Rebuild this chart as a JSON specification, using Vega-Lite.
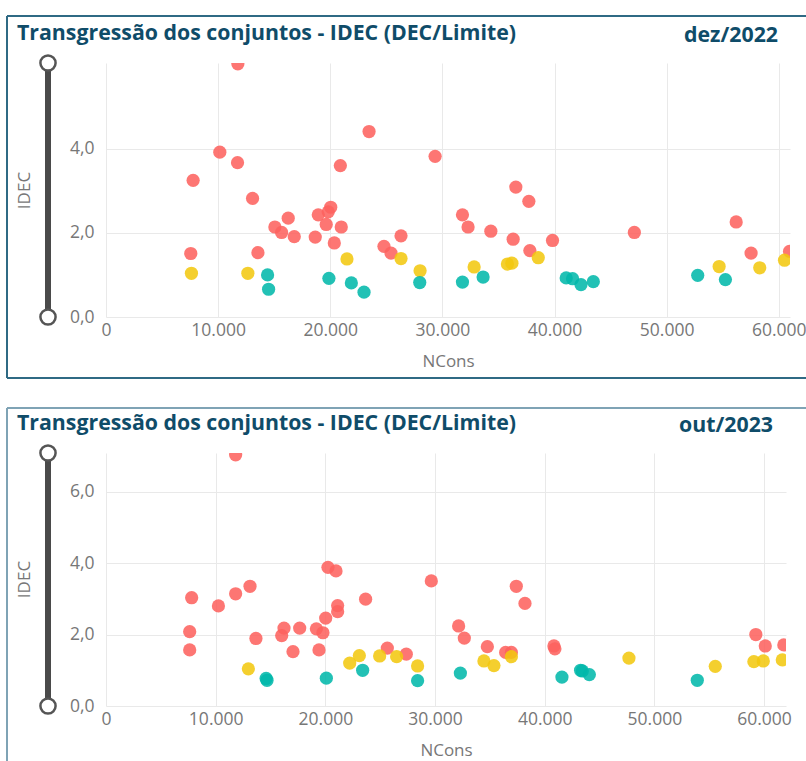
{
  "$schema": "https://vega.github.io/schema/vega-lite/v6.json",
  "padding": {"left": 6, "top": 15, "right": 0, "bottom": 0},
  "background": "white",
  "config": {
    "locale": {"number": {"decimal": ",", "thousands": ".", "grouping": [3], "currency": ["R$", ""]}},
    "view": {"stroke": null},
    "font": "Open Sans",
    "axis": {"labelFont": "Open Sans", "labelFontSize": 17.5, "labelColor": "#777777", "titleFont": "Open Sans", "titleFontSize": 17, "titleFontWeight": "normal", "titleColor": "#777777", "gridColor": "#E9E9E9", "gridWidth": 1, "domain": false, "ticks": false},
    "title": {"font": "Open Sans", "fontSize": 21.3, "fontWeight": "bold", "color": "#0f4c69", "anchor": "start", "frame": "group", "baseline": "alphabetic"}
  },
  "datasets": {
    "one": [{}],
    "dez2022": [
      {"NCons": 11760, "IDEC": 6.02, "Faixa": "Alta"},
      {"NCons": 10150, "IDEC": 3.92, "Faixa": "Alta"},
      {"NCons": 11730, "IDEC": 3.67, "Faixa": "Alta"},
      {"NCons": 7770, "IDEC": 3.25, "Faixa": "Alta"},
      {"NCons": 13070, "IDEC": 2.82, "Faixa": "Alta"},
      {"NCons": 23460, "IDEC": 4.41, "Faixa": "Alta"},
      {"NCons": 29350, "IDEC": 3.82, "Faixa": "Alta"},
      {"NCons": 20900, "IDEC": 3.6, "Faixa": "Alta"},
      {"NCons": 16250, "IDEC": 2.35, "Faixa": "Alta"},
      {"NCons": 15060, "IDEC": 2.14, "Faixa": "Alta"},
      {"NCons": 15660, "IDEC": 2.01, "Faixa": "Alta"},
      {"NCons": 16790, "IDEC": 1.91, "Faixa": "Alta"},
      {"NCons": 18930, "IDEC": 2.43, "Faixa": "Alta"},
      {"NCons": 20040, "IDEC": 2.61, "Faixa": "Alta"},
      {"NCons": 19820, "IDEC": 2.5, "Faixa": "Alta"},
      {"NCons": 19640, "IDEC": 2.2, "Faixa": "Alta"},
      {"NCons": 20980, "IDEC": 2.14, "Faixa": "Alta"},
      {"NCons": 18660, "IDEC": 1.9, "Faixa": "Alta"},
      {"NCons": 20360, "IDEC": 1.76, "Faixa": "Alta"},
      {"NCons": 7560, "IDEC": 1.51, "Faixa": "Alta"},
      {"NCons": 13550, "IDEC": 1.53, "Faixa": "Alta"},
      {"NCons": 26310, "IDEC": 1.93, "Faixa": "Alta"},
      {"NCons": 24790, "IDEC": 1.68, "Faixa": "Alta"},
      {"NCons": 25420, "IDEC": 1.52, "Faixa": "Alta"},
      {"NCons": 31790, "IDEC": 2.43, "Faixa": "Alta"},
      {"NCons": 32290, "IDEC": 2.14, "Faixa": "Alta"},
      {"NCons": 34320, "IDEC": 2.04, "Faixa": "Alta"},
      {"NCons": 36550, "IDEC": 3.09, "Faixa": "Alta"},
      {"NCons": 37710, "IDEC": 2.75, "Faixa": "Alta"},
      {"NCons": 36310, "IDEC": 1.85, "Faixa": "Alta"},
      {"NCons": 37800, "IDEC": 1.58, "Faixa": "Alta"},
      {"NCons": 39820, "IDEC": 1.82, "Faixa": "Alta"},
      {"NCons": 47120, "IDEC": 2.01, "Faixa": "Alta"},
      {"NCons": 56200, "IDEC": 2.26, "Faixa": "Alta"},
      {"NCons": 57530, "IDEC": 1.52, "Faixa": "Alta"},
      {"NCons": 60960, "IDEC": 1.56, "Faixa": "Alta"},
      {"NCons": 7620, "IDEC": 1.04, "Faixa": "Média"},
      {"NCons": 12650, "IDEC": 1.04, "Faixa": "Média"},
      {"NCons": 21490, "IDEC": 1.38, "Faixa": "Média"},
      {"NCons": 26310, "IDEC": 1.39, "Faixa": "Média"},
      {"NCons": 28010, "IDEC": 1.1, "Faixa": "Média"},
      {"NCons": 32830, "IDEC": 1.19, "Faixa": "Média"},
      {"NCons": 35800, "IDEC": 1.26, "Faixa": "Média"},
      {"NCons": 36200, "IDEC": 1.28, "Faixa": "Média"},
      {"NCons": 38550, "IDEC": 1.41, "Faixa": "Média"},
      {"NCons": 54680, "IDEC": 1.2, "Faixa": "Média"},
      {"NCons": 58300, "IDEC": 1.17, "Faixa": "Média"},
      {"NCons": 60510, "IDEC": 1.35, "Faixa": "Média"},
      {"NCons": 14410, "IDEC": 1.0, "Faixa": "Baixa"},
      {"NCons": 14500, "IDEC": 0.66, "Faixa": "Baixa"},
      {"NCons": 19880, "IDEC": 0.92, "Faixa": "Baixa"},
      {"NCons": 21880, "IDEC": 0.81, "Faixa": "Baixa"},
      {"NCons": 23010, "IDEC": 0.59, "Faixa": "Baixa"},
      {"NCons": 27980, "IDEC": 0.82, "Faixa": "Baixa"},
      {"NCons": 31790, "IDEC": 0.83, "Faixa": "Baixa"},
      {"NCons": 33630, "IDEC": 0.95, "Faixa": "Baixa"},
      {"NCons": 41040, "IDEC": 0.93, "Faixa": "Baixa"},
      {"NCons": 41610, "IDEC": 0.91, "Faixa": "Baixa"},
      {"NCons": 42360, "IDEC": 0.77, "Faixa": "Baixa"},
      {"NCons": 43460, "IDEC": 0.84, "Faixa": "Baixa"},
      {"NCons": 52770, "IDEC": 0.99, "Faixa": "Baixa"},
      {"NCons": 55240, "IDEC": 0.89, "Faixa": "Baixa"}
    ],
    "out2023": [
      {"NCons": 11820, "IDEC": 7.03, "Faixa": "Alta"},
      {"NCons": 7810, "IDEC": 3.03, "Faixa": "Alta"},
      {"NCons": 10250, "IDEC": 2.8, "Faixa": "Alta"},
      {"NCons": 11820, "IDEC": 3.14, "Faixa": "Alta"},
      {"NCons": 13130, "IDEC": 3.35, "Faixa": "Alta"},
      {"NCons": 7630, "IDEC": 2.08, "Faixa": "Alta"},
      {"NCons": 7630, "IDEC": 1.57, "Faixa": "Alta"},
      {"NCons": 13670, "IDEC": 1.89, "Faixa": "Alta"},
      {"NCons": 16230, "IDEC": 2.18, "Faixa": "Alta"},
      {"NCons": 16020, "IDEC": 1.97, "Faixa": "Alta"},
      {"NCons": 17660, "IDEC": 2.18, "Faixa": "Alta"},
      {"NCons": 17050, "IDEC": 1.52, "Faixa": "Alta"},
      {"NCons": 19180, "IDEC": 2.16, "Faixa": "Alta"},
      {"NCons": 19780, "IDEC": 2.05, "Faixa": "Alta"},
      {"NCons": 19420, "IDEC": 1.57, "Faixa": "Alta"},
      {"NCons": 20030, "IDEC": 2.46, "Faixa": "Alta"},
      {"NCons": 20240, "IDEC": 3.88, "Faixa": "Alta"},
      {"NCons": 20970, "IDEC": 3.78, "Faixa": "Alta"},
      {"NCons": 21120, "IDEC": 2.81, "Faixa": "Alta"},
      {"NCons": 21120, "IDEC": 2.64, "Faixa": "Alta"},
      {"NCons": 23670, "IDEC": 2.99, "Faixa": "Alta"},
      {"NCons": 29660, "IDEC": 3.5, "Faixa": "Alta"},
      {"NCons": 25650, "IDEC": 1.62, "Faixa": "Alta"},
      {"NCons": 27380, "IDEC": 1.45, "Faixa": "Alta"},
      {"NCons": 32150, "IDEC": 2.24, "Faixa": "Alta"},
      {"NCons": 32670, "IDEC": 1.9, "Faixa": "Alta"},
      {"NCons": 34770, "IDEC": 1.66, "Faixa": "Alta"},
      {"NCons": 37410, "IDEC": 3.35, "Faixa": "Alta"},
      {"NCons": 38200, "IDEC": 2.87, "Faixa": "Alta"},
      {"NCons": 36440, "IDEC": 1.5, "Faixa": "Alta"},
      {"NCons": 36960, "IDEC": 1.5, "Faixa": "Alta"},
      {"NCons": 40840, "IDEC": 1.68, "Faixa": "Alta"},
      {"NCons": 40930, "IDEC": 1.6, "Faixa": "Alta"},
      {"NCons": 59250, "IDEC": 2.0, "Faixa": "Alta"},
      {"NCons": 60110, "IDEC": 1.68, "Faixa": "Alta"},
      {"NCons": 61800, "IDEC": 1.71, "Faixa": "Alta"},
      {"NCons": 12980, "IDEC": 1.04, "Faixa": "Média"},
      {"NCons": 22220, "IDEC": 1.2, "Faixa": "Média"},
      {"NCons": 23100, "IDEC": 1.41, "Faixa": "Média"},
      {"NCons": 24950, "IDEC": 1.4, "Faixa": "Média"},
      {"NCons": 26500, "IDEC": 1.38, "Faixa": "Média"},
      {"NCons": 28410, "IDEC": 1.12, "Faixa": "Média"},
      {"NCons": 34460, "IDEC": 1.26, "Faixa": "Média"},
      {"NCons": 35370, "IDEC": 1.13, "Faixa": "Média"},
      {"NCons": 36960, "IDEC": 1.38, "Faixa": "Média"},
      {"NCons": 47680, "IDEC": 1.34, "Faixa": "Média"},
      {"NCons": 55550, "IDEC": 1.11, "Faixa": "Média"},
      {"NCons": 59070, "IDEC": 1.24, "Faixa": "Média"},
      {"NCons": 59930, "IDEC": 1.26, "Faixa": "Média"},
      {"NCons": 61660, "IDEC": 1.29, "Faixa": "Média"},
      {"NCons": 14600, "IDEC": 0.77, "Faixa": "Baixa"},
      {"NCons": 14680, "IDEC": 0.72, "Faixa": "Baixa"},
      {"NCons": 20090, "IDEC": 0.78, "Faixa": "Baixa"},
      {"NCons": 23400, "IDEC": 1.0, "Faixa": "Baixa"},
      {"NCons": 28410, "IDEC": 0.71, "Faixa": "Baixa"},
      {"NCons": 32310, "IDEC": 0.92, "Faixa": "Baixa"},
      {"NCons": 41570, "IDEC": 0.81, "Faixa": "Baixa"},
      {"NCons": 43270, "IDEC": 1.0, "Faixa": "Baixa"},
      {"NCons": 43430, "IDEC": 0.98, "Faixa": "Baixa"},
      {"NCons": 44070, "IDEC": 0.88, "Faixa": "Baixa"},
      {"NCons": 53910, "IDEC": 0.72, "Faixa": "Baixa"}
    ]
  },
  "bounds": "flush",
  "spacing": 136,
  "vconcat": [
    {
      "width": 684,
      "height": 254,
      "title": {"text": "Transgressão dos conjuntos - IDEC (DEC/Limite)", "dx": -89, "offset": -29},
      "layer": [
        {
          "data": {"name": "dez2022"},
          "mark": {"type": "circle", "size": 175, "opacity": 0.87, "clip": true},
          "encoding": {
            "x": {"field": "NCons", "type": "quantitative", "scale": {"domain": [0, 61000], "nice": false, "zero": true}, "axis": {"title": "NCons", "values": [0, 10000, 20000, 30000, 40000, 50000, 60000], "format": ",d", "labelFlush": false, "labelPadding": 4, "titlePadding": 15, "grid": true}},
            "y": {"field": "IDEC", "type": "quantitative", "scale": {"domain": [0, 6.04], "nice": false}, "axis": {"title": "IDEC", "values": [0, 2, 4], "format": ".1f", "labelPadding": 12, "titleX": -82, "titleY": 127, "titleAngle": -90, "titleAlign": "center", "titleBaseline": "middle", "grid": true}},
            "color": {"field": "Faixa", "type": "nominal", "scale": {"domain": ["Alta", "Média", "Baixa"], "range": ["#FD625E", "#F2C80F", "#01B8AA"]}, "legend": null}
          }
        },
        {
          "data": {"name": "one"},
          "mark": {"type": "rule", "color": "#2f6a84", "strokeWidth": 2},
          "encoding": {"x": {"value": -99}, "x2": {"value": 700}, "y": {"value": -47}, "y2": {"value": -47}}
        },
        {
          "data": {"name": "one"},
          "mark": {"type": "rule", "color": "#2f6a84", "strokeWidth": 2},
          "encoding": {"x": {"value": -99}, "x2": {"value": 700}, "y": {"value": 315}, "y2": {"value": 315}}
        },
        {
          "data": {"name": "one"},
          "mark": {"type": "rule", "color": "#2f6a84", "strokeWidth": 2},
          "encoding": {"x": {"value": -99}, "x2": {"value": -99}, "y": {"value": -47}, "y2": {"value": 315}}
        },
        {
          "data": {"name": "one"},
          "mark": {"type": "rule", "color": "#4a4a4a", "strokeWidth": 6},
          "encoding": {"x": {"value": -58}, "y": {"datum": 0, "type": "quantitative"}, "y2": {"datum": 6.04}}
        },
        {
          "data": {"name": "one"},
          "mark": {"type": "point", "filled": false, "fill": "white", "stroke": "#555555", "strokeWidth": 2.5, "size": 230, "opacity": 1},
          "encoding": {"x": {"value": -58}, "y": {"datum": 6.04, "type": "quantitative"}}
        },
        {
          "data": {"name": "one"},
          "mark": {"type": "point", "filled": false, "fill": "white", "stroke": "#555555", "strokeWidth": 2.5, "size": 230, "opacity": 1},
          "encoding": {"x": {"value": -58}, "y": {"datum": 0, "type": "quantitative"}}
        },
        {
          "data": {"name": "one"},
          "mark": {"type": "text", "text": "dez/2022", "align": "right", "baseline": "alphabetic", "font": "Open Sans", "fontSize": 21.3, "fontWeight": "bold", "color": "#0f4c69"},
          "encoding": {"x": {"value": 672}, "y": {"value": -21}}
        }
      ]
    },
    {
      "width": 680,
      "height": 253,
      "title": {"text": "Transgressão dos conjuntos - IDEC (DEC/Limite)", "dx": -89, "offset": -27},
      "layer": [
        {
          "data": {"name": "out2023"},
          "mark": {"type": "circle", "size": 175, "opacity": 0.87, "clip": true},
          "encoding": {
            "x": {"field": "NCons", "type": "quantitative", "scale": {"domain": [0, 62000], "nice": false, "zero": true}, "axis": {"title": "NCons", "values": [0, 10000, 20000, 30000, 40000, 50000, 60000], "format": ",d", "labelFlush": false, "labelPadding": 4, "titlePadding": 15, "grid": true}},
            "y": {"field": "IDEC", "type": "quantitative", "scale": {"domain": [0, 7.08], "nice": false}, "axis": {"title": "IDEC", "values": [0, 2, 4, 6], "format": ".1f", "labelPadding": 12, "titleX": -82, "titleY": 126, "titleAngle": -90, "titleAlign": "center", "titleBaseline": "middle", "grid": true}},
            "color": {"field": "Faixa", "type": "nominal", "scale": {"domain": ["Alta", "Média", "Baixa"], "range": ["#FD625E", "#F2C80F", "#01B8AA"]}, "legend": null}
          }
        },
        {
          "data": {"name": "one"},
          "mark": {"type": "rule", "color": "#7fa3b5", "strokeWidth": 2},
          "encoding": {"x": {"value": -99}, "x2": {"value": 700}, "y": {"value": -45}, "y2": {"value": -45}}
        },
        {
          "data": {"name": "one"},
          "mark": {"type": "rule", "color": "#7fa3b5", "strokeWidth": 2},
          "encoding": {"x": {"value": -99}, "x2": {"value": -99}, "y": {"value": -45}, "y2": {"value": 308}}
        },
        {
          "data": {"name": "one"},
          "mark": {"type": "rule", "color": "#4a4a4a", "strokeWidth": 6},
          "encoding": {"x": {"value": -58}, "y": {"datum": 0, "type": "quantitative"}, "y2": {"datum": 7.08}}
        },
        {
          "data": {"name": "one"},
          "mark": {"type": "point", "filled": false, "fill": "white", "stroke": "#555555", "strokeWidth": 2.5, "size": 230, "opacity": 1},
          "encoding": {"x": {"value": -58}, "y": {"datum": 7.08, "type": "quantitative"}}
        },
        {
          "data": {"name": "one"},
          "mark": {"type": "point", "filled": false, "fill": "white", "stroke": "#555555", "strokeWidth": 2.5, "size": 230, "opacity": 1},
          "encoding": {"x": {"value": -58}, "y": {"datum": 0, "type": "quantitative"}}
        },
        {
          "data": {"name": "one"},
          "mark": {"type": "text", "text": "out/2023", "align": "right", "baseline": "alphabetic", "font": "Open Sans", "fontSize": 21.3, "fontWeight": "bold", "color": "#0f4c69"},
          "encoding": {"x": {"value": 667}, "y": {"value": -21}}
        }
      ]
    }
  ]
}
